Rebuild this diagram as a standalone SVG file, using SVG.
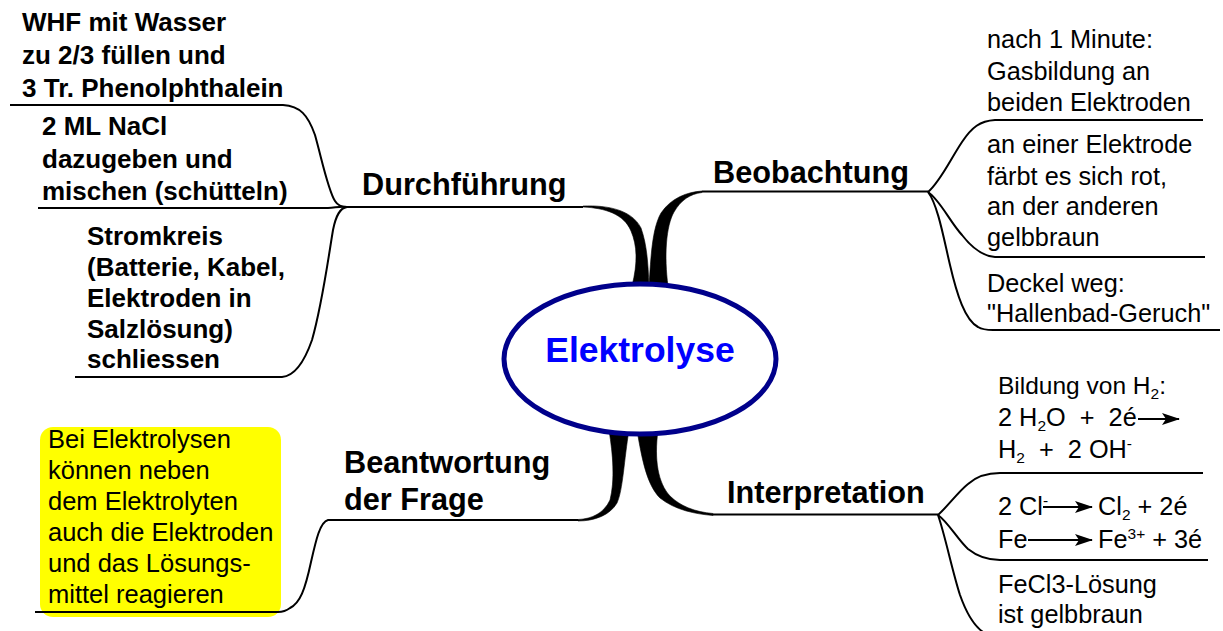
<svg xmlns="http://www.w3.org/2000/svg" width="1223" height="631" viewBox="0 0 1223 631">
<style>
text { font-family: "Liberation Sans", Arial, sans-serif; fill: #000; }
.b { font-size: 26px; font-weight: bold; }
.lab { font-size: 30.7px; font-weight: bold; }
.r { font-size: 25.3px; }
.s { font-size: 15.5px; }
.ln { fill: none; stroke: #000; stroke-width: 2; }
.thick { fill: #000; stroke: #000; stroke-width: 0.6; }
.arr { stroke: #000; stroke-width: 2; marker-end: url(#ah); }
</style>
<defs>
<marker id="ah" markerWidth="18" markerHeight="12" refX="17" refY="6" orient="auto" markerUnits="userSpaceOnUse">
<path d="M0,0 L18,6 L0,12 L4,6 z" fill="#000"/>
</marker>
</defs>
<rect width="1223" height="631" fill="#fff"/>
<g id="answer-box">
<rect x="40" y="427" width="241" height="190" rx="13" fill="#ffff00"/>
</g>
<g id="connectors">
<path class="thick" d="M583,207 C605,208 624,214 631,231 C637,245 638,262 632,286 L649,286 C648,263 647,245 641,228 C632,210 608,205 583,206 Z"/>
<path class="thick" d="M649,286 C651,256 652,229 661,213 C671,198 687,192 702,191 L702,192.5 C690,194 681,200 674,212 C666,226 664,256 668,286 Z"/>
<path class="thick" d="M609,430 C613,455 615,480 610,500 C604,513 592,519 578,519.5 L578,521 C595,521 610,515 617,503 C623,490 624,460 629,430 Z"/>
<path class="thick" d="M637,430 C642,460 647,485 660,498 C675,510 695,514 713,515.5 L713,513.5 C695,512 680,506 670,496 C658,483 654,460 658,430 Z"/>
<path class="ln" d="M347,207 L583,207"/>
<path class="ln" d="M10,105 L283,105 C300,106 308,115 315,135 C322,160 328,190 335,201 C338,206 342,207 347,207"/>
<path class="ln" d="M38,208 L328,208 C335,208 339,206 347,207"/>
<path class="ln" d="M75,377 L282,377 C295,376 305,360 312,340 C322,305 328,260 333,230 C336,215 340,208 347,207"/>
<path class="ln" d="M702,191.5 L928,191.5"/>
<path class="ln" d="M928,192 C940,182 950,160 962,142 C972,127 980,121 995,120 L1203,120"/>
<path class="ln" d="M928,192 C940,200 950,222 962,235 C972,248 982,256 995,257 L1205,257"/>
<path class="ln" d="M928,192 C938,205 944,240 950,265 C957,295 965,320 978,327 C983,330 988,330 993,330 L1220,330"/>
<path class="ln" d="M713,514.5 L938,514.5"/>
<path class="ln" d="M938,515 C948,506 958,492 968,484 C978,475 990,473 1000,473 L1203,473"/>
<path class="ln" d="M938,515 C948,522 958,540 968,549 C978,557 990,560 1000,560 L1208,560"/>
<path class="ln" d="M938,515 C945,535 952,570 960,595 C966,612 973,625 983,632"/>
<path class="ln" d="M578,520 L328,520 C320,522 316,540 311,562 C305,590 300,603 290,608 C286,611 283,612 278,612 L35,612"/>
</g>
<g id="center">
<ellipse cx="640" cy="359" rx="136" ry="75" fill="#fff" stroke="#00008b" stroke-width="5"/>
<text x="640" y="362" text-anchor="middle" font-size="35.5" font-weight="bold" style="fill:#0000ff">Elektrolyse</text>
</g>
<g id="durchfuehrung">
<text class="lab" x="362" y="195">Durchführung</text>
</g>
<g id="step1">
<text class="b" x="22" y="31">WHF mit Wasser</text>
<text class="b" x="22" y="64">zu 2/3 füllen und</text>
<text class="b" x="22" y="97">3 Tr. Phenolphthalein</text>
</g>
<g id="step2">
<text class="b" x="42" y="135">2 ML NaCl</text>
<text class="b" x="42" y="168">dazugeben und</text>
<text class="b" x="42" y="200">mischen (schütteln)</text>
</g>
<g id="step3">
<text class="b" x="87" y="245">Stromkreis</text>
<text class="b" x="87" y="276">(Batterie, Kabel,</text>
<text class="b" x="87" y="307">Elektroden in</text>
<text class="b" x="87" y="338">Salzlösung)</text>
<text class="b" x="87" y="368">schliessen</text>
</g>
<g id="beobachtung">
<text class="lab" x="713" y="183">Beobachtung</text>
</g>
<g id="obs1">
<text class="r" x="987" y="48">nach 1 Minute:</text>
<text class="r" x="987" y="80">Gasbildung an</text>
<text class="r" x="987" y="111">beiden Elektroden</text>
</g>
<g id="obs2">
<text class="r" x="987" y="153">an einer Elektrode</text>
<text class="r" x="987" y="185">färbt es sich rot,</text>
<text class="r" x="987" y="215">an der anderen</text>
<text class="r" x="987" y="246">gelbbraun</text>
</g>
<g id="obs3">
<text class="r" x="987" y="292">Deckel weg:</text>
<text class="r" x="987" y="322">"Hallenbad-Geruch"</text>
</g>
<g id="interpretation">
<text class="lab" x="727" y="503">Interpretation</text>
</g>
<g id="int1">
<text class="r" x="998" y="394" style="font-size:24.5px">Bildung von H<tspan class="s" dy="5">2</tspan><tspan dy="-5">:</tspan></text>
<text class="r" x="998" y="426" xml:space="preserve">2 H<tspan class="s" dy="5">2</tspan><tspan dy="-5">O  +  2é</tspan></text>
<line class="arr" x1="1138" y1="419" x2="1179" y2="419"/>
<text class="r" x="998" y="458" xml:space="preserve">H<tspan class="s" dy="5">2</tspan><tspan dy="-5">  +  2 OH</tspan><tspan class="s" dy="-9">-</tspan></text>
</g>
<g id="int2">
<text class="r" x="998" y="515">2 Cl<tspan class="s" dy="-9">-</tspan></text>
<line class="arr" x1="1043" y1="507" x2="1092" y2="507"/>
<text class="r" x="1098" y="515" xml:space="preserve">Cl<tspan class="s" dy="5">2</tspan><tspan dy="-5"> + 2é</tspan></text>
<text class="r" x="998" y="548">Fe</text>
<line class="arr" x1="1028" y1="540" x2="1092" y2="540"/>
<text class="r" x="1098" y="548" xml:space="preserve">Fe<tspan class="s" dy="-9">3+</tspan><tspan dy="9"> + 3é</tspan></text>
</g>
<g id="int3">
<text class="r" x="998" y="593">FeCl3-Lösung</text>
<text class="r" x="998" y="623">ist gelbbraun</text>
</g>
<g id="beantwortung">
<text class="lab" x="344" y="473">Beantwortung</text>
<text class="lab" x="344" y="510">der Frage</text>
</g>
<g id="answer">
<text class="r" x="48" y="448" style="font-size:25.5px">Bei Elektrolysen</text>
<text class="r" x="48" y="479" style="font-size:25.5px">können neben</text>
<text class="r" x="48" y="510" style="font-size:25.5px">dem Elektrolyten</text>
<text class="r" x="48" y="541" style="font-size:25.5px">auch die Elektroden</text>
<text class="r" x="48" y="572" style="font-size:25.5px">und das Lösungs-</text>
<text class="r" x="48" y="603" style="font-size:25.5px">mittel reagieren</text>
</g>
</svg>
